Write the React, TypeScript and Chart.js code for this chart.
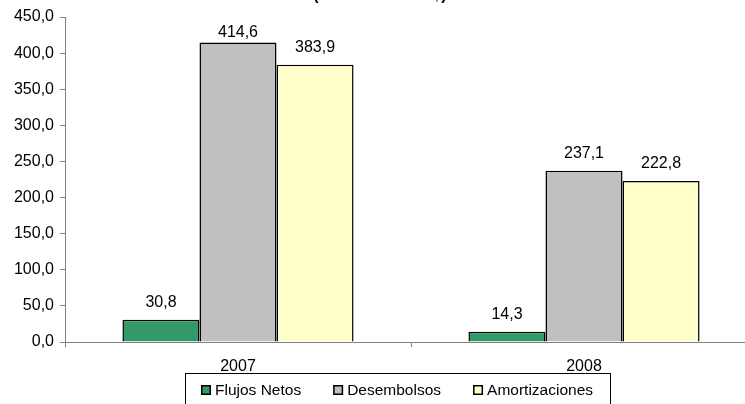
import React, { useEffect, useRef } from "react";
import { Chart, registerables } from "chart.js";

Chart.register(...registerables);

const years = ["2007", "2008"];
const flujosNetos = [30.8, 14.3];
const desembolsos = [414.6, 237.1];
const amortizaciones = [383.9, 222.8];
const seriesNames = ["Flujos Netos", "Desembolsos", "Amortizaciones"];
const seriesColors = ["#339966", "#C0C0C0", "#FFFFCC"];
const titleText = "(Millones de US$)";

const FONT = "Liberation Sans, Arial, sans-serif";
const SIZE = 16;
const fmt = (v: number) => v.toFixed(1).replace(".", ",");

// Value labels above each bar
const valueLabels = {
  id: "valueLabels",
  afterDatasetsDraw(chart: any) {
    const ctx = chart.ctx;
    ctx.save();
    ctx.font = `${SIZE}px ${FONT}`;
    ctx.fillStyle = "#000";
    ctx.textAlign = "center";
    ctx.textBaseline = "middle";
    chart.data.datasets.forEach((ds: any, i: number) => {
      const meta = chart.getDatasetMeta(i);
      meta.data.forEach((bar: any, j: number) => {
        const y = Math.max(bar.y - 17, chart.chartArea.top + 16);
        ctx.fillText(fmt(ds.data[j]), bar.x, y);
      });
    });
    ctx.restore();
  },
};

// Title (sits at the very top edge) and boxed legend below the axis
const decorations = {
  id: "decorations",
  afterDraw(chart: any) {
    const ctx = chart.ctx;
    ctx.save();
    ctx.font = `bold ${SIZE}px ${FONT}`;
    ctx.fillStyle = "#000";
    ctx.textAlign = "center";
    ctx.textBaseline = "alphabetic";
    ctx.fillText(titleText, 380, 0);

    // legend
    ctx.font = `15.5px ${FONT}`;
    ctx.textAlign = "left";
    ctx.textBaseline = "middle";
    ctx.strokeStyle = "#000";
    ctx.lineWidth = 1;
    ctx.strokeRect(185.5, 373.5, 425, 40);
    let x = 201;
    const cy = 390;
    chart.data.datasets.forEach((ds: any) => {
      ctx.fillStyle = ds.backgroundColor;
      ctx.fillRect(x, cy - 5, 10, 10);
      ctx.lineWidth = 1.5;
      ctx.strokeRect(x + 0.75, cy - 4.25, 8.5, 8.5);
      ctx.fillStyle = "#000";
      ctx.fillText(ds.label, x + 14, cy + 1);
      x += 14 + ctx.measureText(ds.label).width + 32;
    });
    ctx.restore();
  },
};

export default function App() {
  const ref = useRef<HTMLCanvasElement>(null);

  useEffect(() => {
    if (!ref.current) return;
    const values = [flujosNetos, desembolsos, amortizaciones];
    const chart = new Chart(ref.current, {
      type: "bar",
      data: {
        labels: years,
        datasets: values.map((d, i) => ({
          label: seriesNames[i],
          data: d,
          backgroundColor: seriesColors[i],
          borderColor: "#000",
          borderWidth: 1.5,
          categoryPercentage: 0.668,
          barPercentage: 1,
        })),
      },
      options: {
        animation: false,
        responsive: false,
        devicePixelRatio: 1,
        layout: { padding: { top: 17, left: 0, right: 0, bottom: 0 } },
        plugins: {
          legend: { display: false },
          tooltip: { enabled: false },
          title: { display: false },
        },
        scales: {
          x: {
            grid: {
              offset: true,
              drawOnChartArea: false,
              drawTicks: true,
              tickLength: 5,
              color: "#808080",
            },
            border: { color: "#808080", width: 1 },
            ticks: { color: "#000", font: { family: FONT, size: SIZE }, padding: 10 },
            afterFit: (s: any) => {
              s.height = 62;
            },
          },
          y: {
            min: 0,
            max: 450,
            ticks: {
              stepSize: 50,
              color: "#000",
              font: { family: FONT, size: SIZE },
              padding: 6,
              callback: (v: any) => fmt(Number(v)),
            },
            grid: {
              drawOnChartArea: false,
              drawTicks: true,
              tickLength: 5,
              color: "#808080",
            },
            border: { color: "#808080", width: 1 },
            afterFit: (s: any) => {
              s.width = 65;
            },
          },
        },
      },
      plugins: [valueLabels, decorations],
    });
    return () => chart.destroy();
  }, []);

  return (
    <div
      style={{
        position: "fixed",
        left: 0,
        top: 0,
        width: 745,
        height: 404,
        overflow: "hidden",
        background: "#fff",
      }}
    >
      <canvas ref={ref} width={757} height={404} style={{ width: 757, height: 404, display: "block" }} />
    </div>
  );
}
